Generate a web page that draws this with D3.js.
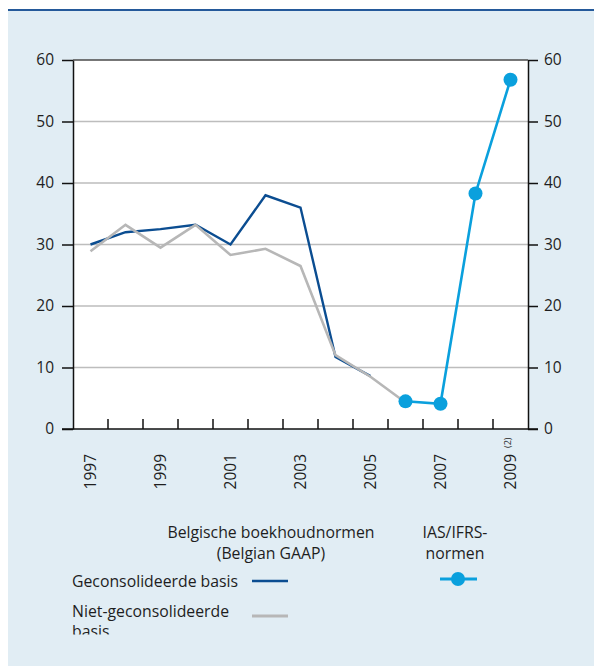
<!DOCTYPE html>
<html>
<head>
<meta charset="utf-8">
<script src="https://cdn.jsdelivr.net/npm/d3@7"></script>
<style>
  html, body { margin: 0; padding: 0; background: #fff; }
  svg { display: block; font-family: "Open Sans", sans-serif; }
</style>
</head>
<body>
<div id="chart"></div>
<script>
// data
var years = [1997, 1998, 1999, 2000, 2001, 2002, 2003, 2004, 2005, 2006, 2007, 2008, 2009];
var labelYears = [1997, 1999, 2001, 2003, 2005, 2007, 2009];
var geconsolideerde = [30, 32, 32.5, 33.2, 30, 38, 36, 11.7, 8.6, null, null, null, null];
var nietGeconsolideerde = [28.9, 33.2, 29.5, 33.2, 28.3, 29.3, 26.5, 12, 8.5, 4.3, null, null, null];
var iasIfrs = [null, null, null, null, null, null, null, null, null, 4.5, 4.1, 38.3, 56.8];
var yTicks = [0, 10, 20, 30, 40, 50, 60];

var W = 594, H = 666;
var plot = {left: 73, top: 60, right: 528, bottom: 429};

var colDark = "#0b4d91",
    colGrey = "#b7b7b7",
    colLight = "#0aa0dd",
    txt = "#1e1e1e";

var svg = d3.select("#chart").append("svg")
    .attr("width", W)
    .attr("height", H);

// panel
svg.append("rect")
    .attr("x", 8).attr("y", 10)
    .attr("width", W - 8).attr("height", H - 10)
    .attr("fill", "#e1edf4");
svg.append("line")
    .attr("x1", 8).attr("x2", W)
    .attr("y1", 10).attr("y2", 10)
    .attr("stroke", "#24599a")
    .attr("stroke-width", 2);

//////// SCALES ////////
var x = d3.scaleBand()
    .domain(years)
    .range([plot.left, plot.right])
    .padding(0);

var y = d3.scaleLinear()
    .domain([0, 60])
    .range([plot.bottom, plot.top]);

var cx = function(yr) { return x(yr) + x.bandwidth() / 2; };

// plot background
svg.append("rect")
    .attr("x", plot.left).attr("y", plot.top)
    .attr("width", plot.right - plot.left)
    .attr("height", plot.bottom - plot.top)
    .attr("fill", "#fff");

// grid
svg.append("g")
    .selectAll("line")
    .data(yTicks.filter(function(d) { return d > 0 && d < 60; }))
    .enter().append("line")
    .attr("x1", plot.left).attr("x2", plot.right)
    .attr("y1", function(d) { return y(d); })
    .attr("y2", function(d) { return y(d); })
    .attr("stroke", "#bdbdbd")
    .attr("stroke-width", 1.5);

svg.append("line")
    .attr("x1", plot.left).attr("x2", plot.right)
    .attr("y1", y(60)).attr("y2", y(60))
    .attr("stroke", "#4a4a4a")
    .attr("stroke-width", 1.5);

//////// AXES ////////
var left = svg.append("g")
    .attr("transform", "translate(" + plot.left + ",0)")
    .call(d3.axisLeft(y).tickValues(yTicks).tickSize(11).tickSizeOuter(0).tickPadding(8));

var right = svg.append("g")
    .attr("transform", "translate(" + plot.right + ",0)")
    .call(d3.axisRight(y).tickValues(yTicks).tickSize(10).tickSizeOuter(0).tickPadding(6));

[left, right].forEach(function(a) {
    a.select(".domain").attr("stroke", "#111").attr("stroke-width", 1.5);
    a.selectAll(".tick line").attr("stroke", "#111").attr("stroke-width", 1.5);
    a.selectAll(".tick text")
        .attr("fill", txt)
        .attr("font-size", 15.5)
        .attr("font-family", "Open Sans, sans-serif");
});

// x axis baseline and inner ticks at band boundaries
svg.append("line")
    .attr("x1", plot.left - 11).attr("x2", plot.right + 10)
    .attr("y1", plot.bottom).attr("y2", plot.bottom)
    .attr("stroke", "#111")
    .attr("stroke-width", 1.5);

svg.append("g")
    .selectAll("line")
    .data(years.slice(1))
    .enter().append("line")
    .attr("x1", function(d) { return x(d); })
    .attr("x2", function(d) { return x(d); })
    .attr("y1", plot.bottom)
    .attr("y2", plot.bottom - 10)
    .attr("stroke", "#111")
    .attr("stroke-width", 1.5);

svg.append("g")
    .selectAll("text")
    .data(labelYears)
    .enter().append("text")
    .attr("transform", function(d) { return "translate(" + cx(d) + ",454) rotate(-90)"; })
    .attr("text-anchor", "end")
    .attr("dy", "0.35em")
    .attr("font-size", 15.5)
    .attr("fill", txt)
    .text(function(d) { return d; });

svg.append("text")
    .attr("transform", "translate(" + (cx(2009) + 0.5) + ",448) rotate(-90)")
    .attr("text-anchor", "start")
    .attr("font-size", 9)
    .attr("fill", txt)
    .text("(2)");

//////// LINES ////////
function lineFor(vals) {
    return d3.line()
        .defined(function(d, i) { return vals[i] != null; })
        .x(function(d) { return cx(d); })
        .y(function(d, i) { return y(vals[i]); });
}

svg.append("path")
    .attr("d", lineFor(geconsolideerde)(years))
    .attr("fill", "none")
    .attr("stroke", colDark)
    .attr("stroke-width", 2.4);

svg.append("path")
    .attr("d", lineFor(nietGeconsolideerde)(years))
    .attr("fill", "none")
    .attr("stroke", colGrey)
    .attr("stroke-width", 2.6);

svg.append("path")
    .attr("d", lineFor(iasIfrs)(years))
    .attr("fill", "none")
    .attr("stroke", colLight)
    .attr("stroke-width", 2.6);

svg.append("g")
    .selectAll("circle")
    .data(years.filter(function(d, i) { return iasIfrs[i] != null; }))
    .enter().append("circle")
    .attr("cx", function(d) { return cx(d); })
    .attr("cy", function(d) { return y(iasIfrs[years.indexOf(d)]); })
    .attr("r", 7)
    .attr("fill", colLight);

//////// LEGEND ////////
var leg = svg.append("g")
    .attr("font-size", 15.8)
    .attr("fill", txt);

leg.append("text").attr("x", 271).attr("y", 537.5)
    .attr("text-anchor", "middle").text("Belgische boekhoudnormen");
leg.append("text").attr("x", 271).attr("y", 558.5)
    .attr("text-anchor", "middle").text("(Belgian GAAP)");
leg.append("text").attr("x", 455).attr("y", 537.5)
    .attr("text-anchor", "middle").text("IAS/IFRS-");
leg.append("text").attr("x", 455).attr("y", 558.5)
    .attr("text-anchor", "middle").text("normen");

svg.append("clipPath").attr("id", "legclip")
    .append("rect").attr("x", 0).attr("y", 0).attr("width", W).attr("height", 634.5);

var rows = leg.append("g").attr("clip-path", "url(#legclip)");
rows.append("text").attr("x", 72).attr("y", 587).text("Geconsolideerde basis");
rows.append("text").attr("x", 72).attr("y", 616.5).text("Niet-geconsolideerde");
rows.append("text").attr("x", 72).attr("y", 637).text("basis");

leg.append("line").attr("x1", 252).attr("x2", 288).attr("y1", 581).attr("y2", 581)
    .attr("stroke", colDark).attr("stroke-width", 2.5);
leg.append("line").attr("x1", 252).attr("x2", 288).attr("y1", 616).attr("y2", 616)
    .attr("stroke", colGrey).attr("stroke-width", 3);
leg.append("line").attr("x1", 440).attr("x2", 477).attr("y1", 579).attr("y2", 579)
    .attr("stroke", colLight).attr("stroke-width", 3);
leg.append("circle").attr("cx", 458).attr("cy", 579).attr("r", 7).attr("fill", colLight);
</script>
</body>
</html>
